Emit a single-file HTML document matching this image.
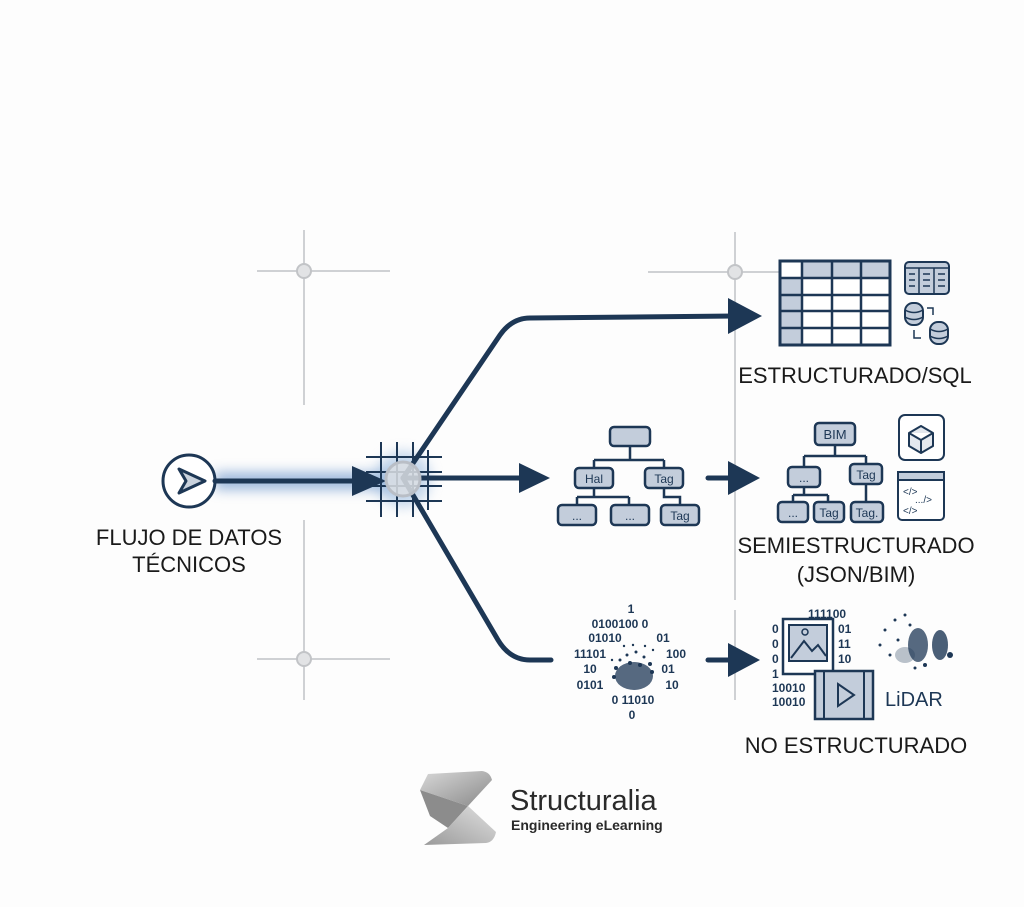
<!DOCTYPE html>
<html><head><meta charset="utf-8"><style>
html,body{margin:0;padding:0;background:#fdfdfd;}
svg{display:block;font-family:"Liberation Sans",sans-serif;}
</style></head><body>
<svg width="1024" height="907" viewBox="0 0 1024 907" xmlns="http://www.w3.org/2000/svg">
<defs>
<filter id="gl" x="-30%" y="-300%" width="160%" height="700%"><feGaussianBlur stdDeviation="6"/></filter>
<linearGradient id="lg" x1="0" y1="0" x2="1" y2="1"><stop offset="0" stop-color="#d8d8d8"/><stop offset="1" stop-color="#8a8a8a"/></linearGradient>
<linearGradient id="lg2" x1="1" y1="0" x2="0" y2="1"><stop offset="0" stop-color="#e0e0e0"/><stop offset="1" stop-color="#9a9a9a"/></linearGradient>
</defs>
<rect width="1024" height="907" fill="#fdfdfd"/>
<!-- guides -->
<g stroke="#cfd1d4" stroke-width="2" fill="none">
<line x1="304" y1="230" x2="304" y2="405"/><line x1="257" y1="271" x2="390" y2="271"/>
<line x1="304" y1="520" x2="304" y2="700"/><line x1="257" y1="659" x2="390" y2="659"/>
<line x1="735" y1="232" x2="735" y2="600"/><line x1="735" y1="610" x2="735" y2="700"/><line x1="648" y1="272" x2="820" y2="272"/>
</g>
<g fill="#e2e3e5" stroke="#c2c4c7" stroke-width="2">
<circle cx="304" cy="271" r="7"/><circle cx="304" cy="659" r="7"/><circle cx="735" cy="272" r="7"/>
</g>
<!-- glow -->
<rect x="215" y="472" width="190" height="18" fill="#7fa3d0" filter="url(#gl)" opacity="0.75"/>
<circle cx="403" cy="479" r="28" fill="#9fbde0" filter="url(#gl)" opacity="0.6"/>
<!-- start -->
<circle cx="189" cy="481" r="26" fill="#fff" stroke="#1d3755" stroke-width="3"/>
<path d="M179 469 L205 481 L179 493 L186 481 Z" fill="#c9d2dd" stroke="#1d3755" stroke-width="3" stroke-linejoin="round"/>
<g stroke="#1d3755" stroke-width="5" fill="none" stroke-linecap="round">
<line x1="215" y1="481" x2="360" y2="481"/>
<path d="M403 478 L500 335 Q512 318 530 318 L735 316"/>
<line x1="403" y1="478" x2="525" y2="478"/>
<path d="M403 478 L498 640 Q510 660 530 660 L551 660"/>
<line x1="708" y1="478" x2="735" y2="478"/>
<line x1="708" y1="660" x2="735" y2="660"/>
</g>
<g fill="#1d3755">
<path d="M352 466 L386 481 L352 496 Z"/>
<path d="M728 298 L762 316 L728 334 Z"/>
<path d="M519 463 L550 478 L519 493 Z"/>
<path d="M728 461 L760 478 L728 495 Z"/>
<path d="M728 643 L760 660 L728 677 Z"/>
</g>
<!-- hub grid -->
<g stroke="#1d3755" stroke-width="2">
<line x1="381" y1="442" x2="381" y2="517"/><line x1="397" y1="442" x2="397" y2="517"/><line x1="413" y1="442" x2="413" y2="517"/><line x1="428" y1="450" x2="428" y2="510"/>
<line x1="366" y1="457" x2="442" y2="457"/><line x1="366" y1="472" x2="442" y2="472"/><line x1="366" y1="486" x2="442" y2="486"/><line x1="366" y1="501" x2="442" y2="501"/>
</g>
<circle cx="403" cy="479" r="17" fill="#dcdfe4" fill-opacity="0.85" stroke="#b9bec6" stroke-width="3"/>
<!-- middle tree -->
<g stroke="#1d3755" stroke-width="2.5" fill="none">
<path d="M630 445 V460 M594 460 H664 M594 460 V468 M664 460 V468"/>
<path d="M594 488 V497 M577 497 H629 M577 497 V505 M629 497 V505"/>
<path d="M664 488 V497 H680 V505"/>
</g>
<g fill="#c3cddb" stroke="#1d3755" stroke-width="2.5">
<rect x="610" y="427" width="40" height="19" rx="4"/>
<rect x="575" y="468" width="38" height="20" rx="4"/><rect x="645" y="468" width="38" height="20" rx="4"/>
<rect x="558" y="505" width="38" height="20" rx="4"/><rect x="611" y="505" width="38" height="20" rx="4"/><rect x="661" y="505" width="38" height="20" rx="4"/>
</g>
<g font-size="12" fill="#1d3755" text-anchor="middle">
<text x="594" y="483">Hal</text><text x="664" y="483">Tag</text>
<text x="577" y="520">...</text><text x="630" y="520">...</text><text x="680" y="520">Tag</text>
</g>
<!-- right tree -->
<g stroke="#1d3755" stroke-width="2.5" fill="none">
<path d="M835 445 V456 M804 456 H866 M804 456 V467 M866 456 V464"/>
<path d="M804 487 V495 M793 495 H828 M793 495 V502 M828 495 V502 M866 484 V502"/>
</g>
<g fill="#c3cddb" stroke="#1d3755" stroke-width="2.5">
<rect x="815" y="423" width="40" height="22" rx="4"/>
<rect x="788" y="467" width="32" height="20" rx="4"/><rect x="850" y="464" width="32" height="20" rx="4"/>
<rect x="778" y="502" width="30" height="20" rx="4"/><rect x="814" y="502" width="30" height="20" rx="4"/><rect x="851" y="502" width="32" height="20" rx="4"/>
</g>
<g font-size="12" fill="#1d3755" text-anchor="middle">
<text x="835" y="439" font-size="13">BIM</text><text x="804" y="482">...</text><text x="866" y="479">Tag</text>
<text x="793" y="517">...</text><text x="829" y="517">Tag</text><text x="867" y="517">Tag.</text>
</g>
<rect x="899" y="415" width="45" height="45" rx="6" fill="#fff" stroke="#1d3755" stroke-width="2"/>
<path d="M921 426 L933 433 L933 446 L921 453 L909 446 L909 433 Z M909 433 L921 440 L933 433 M921 440 V453" fill="#e4e8ee" stroke="#1d3755" stroke-width="2" stroke-linejoin="round"/>
<rect x="898" y="472" width="46" height="48" rx="4" fill="#fff" stroke="#1d3755" stroke-width="2"/>
<rect x="898" y="472" width="46" height="8" fill="#c3cddb" stroke="#1d3755" stroke-width="2"/>
<g font-size="10" fill="#1d3755"><text x="903" y="495">&lt;/&gt;</text><text x="915" y="503">.../&gt;</text><text x="903" y="514">&lt;/&gt;</text></g>
<!-- table -->
<g>
<rect x="780" y="261" width="110" height="84" fill="#fff" stroke="#1d3755" stroke-width="3"/>
<rect x="802" y="261" width="88" height="17" fill="#c3cddb"/>
<rect x="780" y="278" width="22" height="67" fill="#c3cddb"/>
<g stroke="#1d3755" stroke-width="2.5">
<line x1="802" y1="261" x2="802" y2="345"/><line x1="832" y1="261" x2="832" y2="345"/><line x1="861" y1="261" x2="861" y2="345"/>
<line x1="780" y1="278" x2="890" y2="278"/><line x1="780" y1="295" x2="890" y2="295"/><line x1="780" y1="311" x2="890" y2="311"/><line x1="780" y1="328" x2="890" y2="328"/>
</g>
<rect x="780" y="261" width="110" height="84" fill="none" stroke="#1d3755" stroke-width="3"/>
</g>
<rect x="905" y="262" width="44" height="32" rx="4" fill="#c3cddb" stroke="#1d3755" stroke-width="2"/>
<g stroke="#1d3755" stroke-width="1.5"><line x1="905" y1="268" x2="949" y2="268"/><line x1="919" y1="268" x2="919" y2="294"/><line x1="934" y1="268" x2="934" y2="294"/>
<line x1="909" y1="274" x2="915" y2="274"/><line x1="909" y1="280" x2="915" y2="280"/><line x1="909" y1="286" x2="915" y2="286"/><line x1="923" y1="274" x2="930" y2="274"/><line x1="923" y1="280" x2="930" y2="280"/><line x1="923" y1="286" x2="930" y2="286"/><line x1="938" y1="274" x2="945" y2="274"/><line x1="938" y1="280" x2="945" y2="280"/><line x1="938" y1="286" x2="945" y2="286"/></g>
<g fill="#c3cddb" stroke="#1d3755" stroke-width="2">
<rect x="905" y="303" width="18" height="22" rx="8"/><rect x="930" y="322" width="18" height="22" rx="8"/></g>
<g stroke="#1d3755" stroke-width="1.5" fill="none"><path d="M905 310 Q914 315 923 310 M905 317 Q914 322 923 317 M930 329 Q939 334 948 329 M930 336 Q939 341 948 336"/>
<path d="M927 308 H933 V315 M914 330 V338 H921"/></g>
<!-- scatter left -->
<g font-size="12" fill="#1d3755" font-weight="bold" text-anchor="middle">
<text x="631" y="613">1</text><text x="620" y="628">0100100  0</text><text x="605" y="642">01010</text><text x="663" y="642">01</text>
<text x="590" y="658">11101</text><text x="676" y="658">100</text><text x="590" y="673">10</text><text x="668" y="673">01</text>
<text x="590" y="689">0101</text><text x="672" y="689">10</text><text x="633" y="704">0  11010</text><text x="632" y="719">0</text>
</g>
<g fill="#1d3755">
<ellipse cx="634" cy="676" rx="19" ry="14" opacity="0.75"/>
<circle cx="616" cy="668" r="2"/><circle cx="620" cy="660" r="1.5"/><circle cx="627" cy="655" r="1.5"/><circle cx="636" cy="652" r="1.5"/><circle cx="644" cy="657" r="1.5"/><circle cx="650" cy="664" r="2"/><circle cx="652" cy="672" r="2"/><circle cx="614" cy="677" r="2"/><circle cx="630" cy="663" r="2"/><circle cx="640" cy="665" r="2"/><circle cx="633" cy="645" r="1.2"/><circle cx="645" cy="646" r="1.2"/><circle cx="624" cy="646" r="1.2"/><circle cx="612" cy="660" r="1.2"/><circle cx="653" cy="650" r="1.2"/>
</g>
<!-- unstructured right -->
<g font-size="12" fill="#1d3755" font-weight="bold">
<text x="808" y="618">111100</text><text x="772" y="633">0</text><text x="772" y="648">0</text><text x="772" y="663">0</text><text x="772" y="678">1</text>
<text x="838" y="633">01</text><text x="838" y="648">11</text><text x="838" y="663">10</text>
<text x="772" y="692">10010</text><text x="772" y="706">10010</text>
</g>
<rect x="783" y="619" width="50" height="55" fill="#fff" stroke="#1d3755" stroke-width="2.5"/>
<rect x="789" y="625" width="38" height="36" fill="#c3cddb" stroke="#1d3755" stroke-width="2"/>
<path d="M791 658 L804 641 L812 651 L818 645 L826 656" stroke="#1d3755" stroke-width="2" fill="none"/>
<circle cx="805" cy="632" r="3" fill="none" stroke="#1d3755" stroke-width="1.5"/>
<rect x="815" y="671" width="58" height="48" fill="#c3cddb" stroke="#1d3755" stroke-width="2.5"/>
<g stroke="#1d3755" stroke-width="2"><line x1="824" y1="671" x2="824" y2="719"/><line x1="864" y1="671" x2="864" y2="719"/></g>
<path d="M838 684 L854 695 L838 706 Z" fill="none" stroke="#1d3755" stroke-width="2"/>
<g fill="#1d3755">
<ellipse cx="918" cy="645" rx="10" ry="17" opacity="0.75"/><ellipse cx="940" cy="645" rx="8" ry="15" opacity="0.8"/><ellipse cx="905" cy="655" rx="10" ry="8" opacity="0.3"/>
<circle cx="885" cy="630" r="1.5"/><circle cx="880" cy="645" r="1.5"/><circle cx="895" cy="620" r="1.5"/><circle cx="905" cy="615" r="1.5"/><circle cx="950" cy="655" r="3"/><circle cx="890" cy="655" r="1.5"/><circle cx="898" cy="640" r="1.5"/><circle cx="910" cy="625" r="1.5"/><circle cx="925" cy="665" r="2"/><circle cx="915" cy="668" r="1.5"/>
</g>
<text x="885" y="706" font-size="20" fill="#1d3755">LiDAR</text>
<!-- labels -->
<g font-size="22" fill="#1a1a1a" text-anchor="middle">
<text x="855" y="383">ESTRUCTURADO/SQL</text>
<text x="856" y="553">SEMIESTRUCTURADO</text>
<text x="856" y="582">(JSON/BIM)</text>
<text x="856" y="753">NO ESTRUCTURADO</text>
<text x="189" y="545">FLUJO DE DATOS</text>
<text x="189" y="572">TÉCNICOS</text>
</g>
<!-- logo -->
<path d="M428 774 L482 771 Q490 772 492 780 L468 806 L420 790 Z" fill="url(#lg)"/>
<path d="M420 790 L468 806 L448 828 L430 816 Z" fill="#8c8c8c"/>
<path d="M468 806 L496 832 Q494 842 486 843 L424 845 L448 828 Z" fill="url(#lg2)"/>
<text x="510" y="810" font-size="29" fill="#2a2a2a">Structuralia</text>
<text x="511" y="830" font-size="14" font-weight="bold" fill="#2a2a2a">Engineering eLearning</text>
</svg>
</body></html>
